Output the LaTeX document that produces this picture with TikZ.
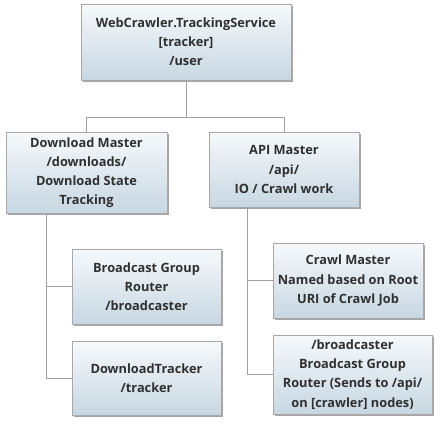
\documentclass[tikz,border=0pt]{standalone}
\usepackage{fontspec}
\setmainfont{Open Sans}
\usetikzlibrary{shadows}
\definecolor{boxtop}{HTML}{F6F9FB}
\definecolor{boxbot}{HTML}{C7D7E2}
\definecolor{boxline}{HTML}{A8A8A8}
\definecolor{txt}{HTML}{303030}
\definecolor{wire}{HTML}{A0A0A0}
\tikzset{
  box/.style={draw=boxline, line width=0.8pt, top color=boxtop, bottom color=boxbot,
    text=txt, align=center, inner sep=1pt,
    font=\fontsize{12.8}{19.2}\selectfont\bfseries,
    drop shadow={shadow xshift=2pt, shadow yshift=-2pt, fill=black, opacity=0.35}},
  wirestyle/.style={draw=wire, line width=0.9pt}
}
\begin{document}
\begin{tikzpicture}[x=1pt,y=-1pt]
\useasboundingbox (0,0) rectangle (442,446);
\node[box, minimum width=210pt, minimum height=76pt] (top) at (186,42)
  {WebCrawler.TrackingService\\{}{[tracker]}\\/user};
\node[box, minimum width=161pt, minimum height=81pt] (dm) at (86.5,172.5)
  {Download Master\\/downloads/\\Download State\\Tracking};
\node[box, minimum width=150pt, minimum height=75pt] (api) at (284,169.5)
  {API Master\\/api/\\IO / Crawl work};
\node[box, minimum width=149pt, minimum height=75pt] (bgr) at (146.5,286.5)
  {Broadcast Group\\Router\\/broadcaster};
\node[box, minimum width=149pt, minimum height=74pt] (dt) at (146.5,378)
  {DownloadTracker\\/tracker};
\node[box, minimum width=150pt, minimum height=75pt] (cm) at (348,280.5)
  {Crawl Master\\Named based on Root\\URI of Crawl Job};
\node[box, minimum width=159pt, minimum height=79pt] (bc) at (352.5,374.5)
  {/broadcaster\\Broadcast Group\\Router (Sends to /api/\\on [crawler] nodes)};
\coordinate (j) at (186,117);
\coordinate (dmo) at (46,213);
\coordinate (apio) at (247,207);
\draw[wirestyle] (top.south) -- (j);
\draw[wirestyle] (j) -| (dm.north);
\draw[wirestyle] (j) -| (api.north);
\draw[wirestyle] (dmo) |- (bgr.west);
\draw[wirestyle] (dmo) |- (dt.west);
\draw[wirestyle] (apio) |- (cm.west);
\draw[wirestyle] (apio) |- (bc.west);
\end{tikzpicture}
\end{document}
